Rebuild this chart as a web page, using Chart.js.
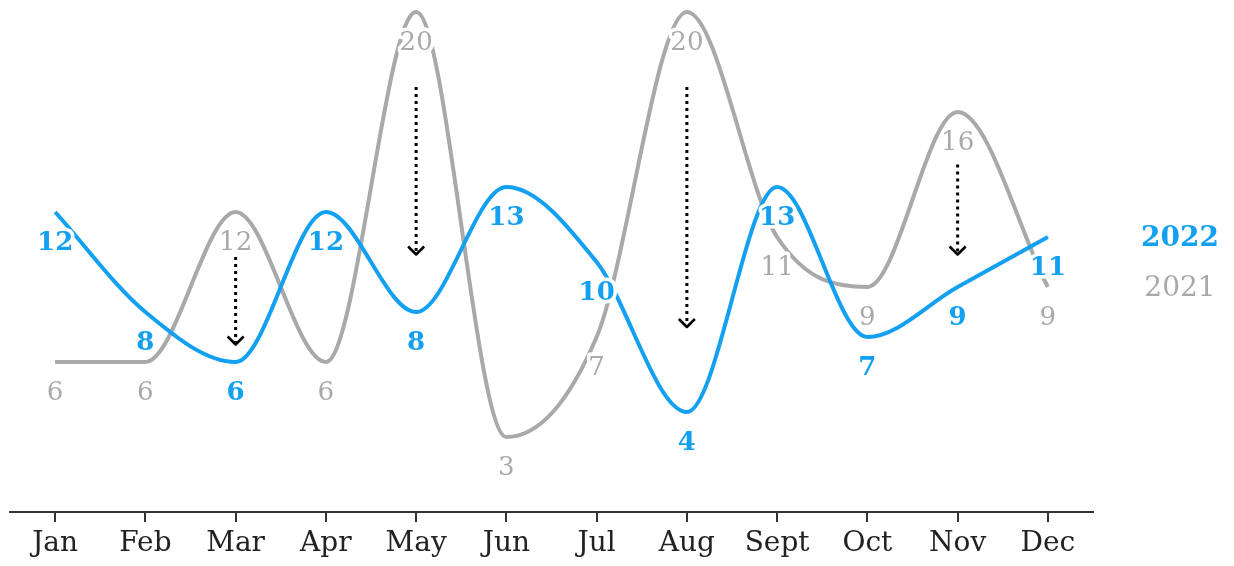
<!DOCTYPE html>
<html>
<head>
<meta charset="utf-8">
<script src="https://cdn.jsdelivr.net/npm/chart.js@4"></script>
<style>
  body { margin: 0; background: #fff; }
</style>
</head>
<body>
<canvas id="myChart" width="1234" height="566"></canvas>
<script>
const months = ['Jan', 'Feb', 'Mar', 'Apr', 'May', 'Jun', 'Jul', 'Aug', 'Sept', 'Oct', 'Nov', 'Dec'];
const values2022 = [12, 8, 6, 12, 8, 13, 10, 4, 13, 7, 9, 11];
const values2021 = [6, 6, 12, 6, 20, 3, 7, 20, 11, 9, 16, 9];

// arrows for the months that dropped (values in chart units)
const arrowMonths = ['Mar', 'May', 'Aug', 'Nov'];
const arrowFrom = [10.2, 17, 17, 13.9];
const arrowTo = [6.7, 10.3, 7.4, 10.3];

const BLUE = '#14a0f0';
const GREY = '#a9a9a9';
const SERIF = '"DejaVu Serif", serif';

// value labels under each point, with a white halo
const valueLabels = {
  id: 'valueLabels',
  afterDatasetsDraw(chart) {
    const ctx = chart.ctx;
    ctx.save();
    ctx.textAlign = 'center';
    ctx.textBaseline = 'middle';
    ctx.lineJoin = 'round';
    // grey first, blue on top
    [1, 0].forEach(i => {
      const ds = chart.data.datasets[i];
      const meta = chart.getDatasetMeta(i);
      ctx.font = (i === 0 ? 'bold 26px ' : '26px ') + SERIF;
      meta.data.forEach((pt, j) => {
        const txt = String(ds.data[j]);
        const y = pt.y + 31;
        ctx.strokeStyle = '#fff';
        ctx.lineWidth = 7;
        ctx.strokeText(txt, pt.x, y);
        ctx.fillStyle = ds.borderColor;
        ctx.fillText(txt, pt.x, y);
      });
    });

    // dotted arrows
    const xs = chart.scales.x, ys = chart.scales.y;
    ctx.strokeStyle = '#000';
    arrowMonths.forEach((m, k) => {
      const x = xs.getPixelForValue(months.indexOf(m));
      const y1 = ys.getPixelForValue(arrowFrom[k]);
      const y2 = ys.getPixelForValue(arrowTo[k]);
      ctx.lineWidth = 3;
      ctx.setLineDash([3, 4]);
      ctx.beginPath();
      ctx.moveTo(x, y1);
      ctx.lineTo(x, y2 - 2);
      ctx.stroke();
      ctx.setLineDash([]);
      ctx.lineWidth = 2.5;
      ctx.beginPath();
      ctx.moveTo(x - 8, y2 - 8);
      ctx.lineTo(x, y2);
      ctx.lineTo(x + 8, y2 - 8);
      ctx.stroke();
    });

    // series names at the right, level with the last values
    ctx.textAlign = 'center';
    const lastX = chart.chartArea.right + 87;
    ctx.font = 'bold 28px ' + SERIF;
    ctx.fillStyle = BLUE;
    ctx.fillText('2022', lastX, ys.getPixelForValue(values2022[11]) + 2);
    ctx.font = '28px ' + SERIF;
    ctx.fillStyle = GREY;
    ctx.fillText('2021', lastX, ys.getPixelForValue(values2021[11]) + 2);
    ctx.restore();
  }
};

new Chart(document.getElementById('myChart').getContext('2d'), {
  type: 'line',
  data: {
    labels: months,
    datasets: [
      {
        label: '2022',
        data: values2022,
        borderColor: BLUE,
        borderWidth: 4,
        pointRadius: 0,
        cubicInterpolationMode: 'monotone',
        clip: false
      },
      {
        label: '2021',
        data: values2021,
        borderColor: GREY,
        borderWidth: 4,
        pointRadius: 0,
        cubicInterpolationMode: 'monotone',
        clip: false
      }
    ]
  },
  options: {
    responsive: false,
    animation: false,
    layout: { padding: { left: 10, right: 141, top: 12, bottom: 0 } },
    plugins: {
      legend: { display: false },
      tooltip: { enabled: false }
    },
    scales: {
      x: {
        offset: true,
        border: { display: true, color: '#333', width: 2 },
        grid: { display: true, offset: false, drawOnChartArea: false, drawTicks: true, tickLength: 10, color: '#333', lineWidth: 2 },
        ticks: { color: '#222', padding: 8, font: { family: SERIF, size: 28, lineHeight: 1.0 } }
      },
      y: {
        display: false,
        min: 0,
        max: 20
      }
    }
  },
  plugins: [valueLabels]
});
</script>
</body>
</html>
